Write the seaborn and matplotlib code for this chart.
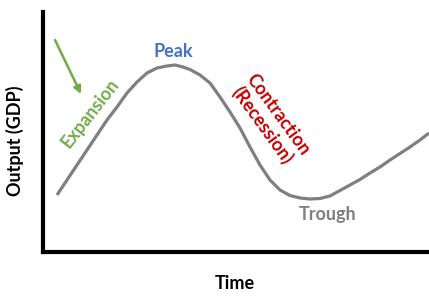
import matplotlib
matplotlib.use("Agg")
import matplotlib.pyplot as plt
import seaborn as sns
import pandas as pd

# Business-cycle curve (arbitrary units)
time = [14, 24, 34, 44, 54, 64, 74, 84, 94, 104, 114, 124, 132, 140, 147,
        157, 167, 177, 187, 197, 207, 217, 227, 237, 247, 257, 267, 277,
        287, 297, 307, 317, 327, 337, 347, 357, 367, 377, 386]
output = [57, 72, 87, 102, 117, 132, 145, 159, 170, 179, 184, 186, 187, 185, 182.5,
          177, 169, 155, 140, 124, 105, 87, 72, 62, 56.5, 54, 53, 53.5,
          56, 61.5, 67, 72.5, 79, 85, 92, 98.5, 105, 112, 119]

x_label = "Time"
y_label = "Output (GDP)"
phase_labels = ["Expansion", "Peak", "Contraction\n(Recession)", "Trough"]

GREEN = "#70AD47"
BLUE = "#4472C4"
RED = "#C00000"
GRAY = "#7F7F7F"

sns.set_theme(style="white")
plt.rcParams["font.family"] = ["Lato", "DejaVu Sans"]
plt.rcParams["font.weight"] = "bold"

df = pd.DataFrame({"time": time, "output": output})

fig = plt.figure(figsize=(4.29, 3.01), dpi=100)
ax = fig.add_axes([43 / 429, 49 / 301, 386 / 429, 240 / 301])

sns.lineplot(data=df, x="time", y="output", ax=ax, color=GRAY,
             linewidth=2.3, sort=False, solid_joinstyle="round",
             solid_capstyle="butt")

ax.set_xlim(0, 386)
ax.set_ylim(0, 240)
ax.set_xticks([])
ax.set_yticks([])
sns.despine(ax=ax)
for side in ("left", "bottom"):
    ax.spines[side].set_linewidth(3.0)
    ax.spines[side].set_color("black")

fs = 13
ax.set_xlabel(x_label, fontsize=fs, fontweight="bold", color="black", va="center")
ax.set_ylabel(y_label, fontsize=fs, fontweight="bold", color="black", va="center")
ax.xaxis.set_label_coords(0.497, -0.131)
ax.yaxis.set_label_coords(-0.073, 0.4625)

ax.text(47, 139, phase_labels[0], color=GREEN, fontsize=fs, fontweight="bold",
        rotation=52, rotation_mode="anchor", ha="center", va="center")
ax.text(130, 195, phase_labels[1], color=BLUE, fontsize=fs, fontweight="bold",
        ha="center", va="baseline")
ax.text(227, 132, phase_labels[2], color=RED, fontsize=fs, fontweight="bold",
        rotation=-54, rotation_mode="anchor", ha="center", va="center",
        multialignment="center", linespacing=1.15)
ax.text(284.5, 32, phase_labels[3], color=GRAY, fontsize=fs, fontweight="bold",
        ha="center", va="baseline")

ax.annotate("", xy=(38, 158), xytext=(12, 212),
            arrowprops=dict(arrowstyle="-|>", color=GREEN, lw=1.8,
                            mutation_scale=11, shrinkA=0, shrinkB=0))

fig.savefig("out.png", dpi=100)
